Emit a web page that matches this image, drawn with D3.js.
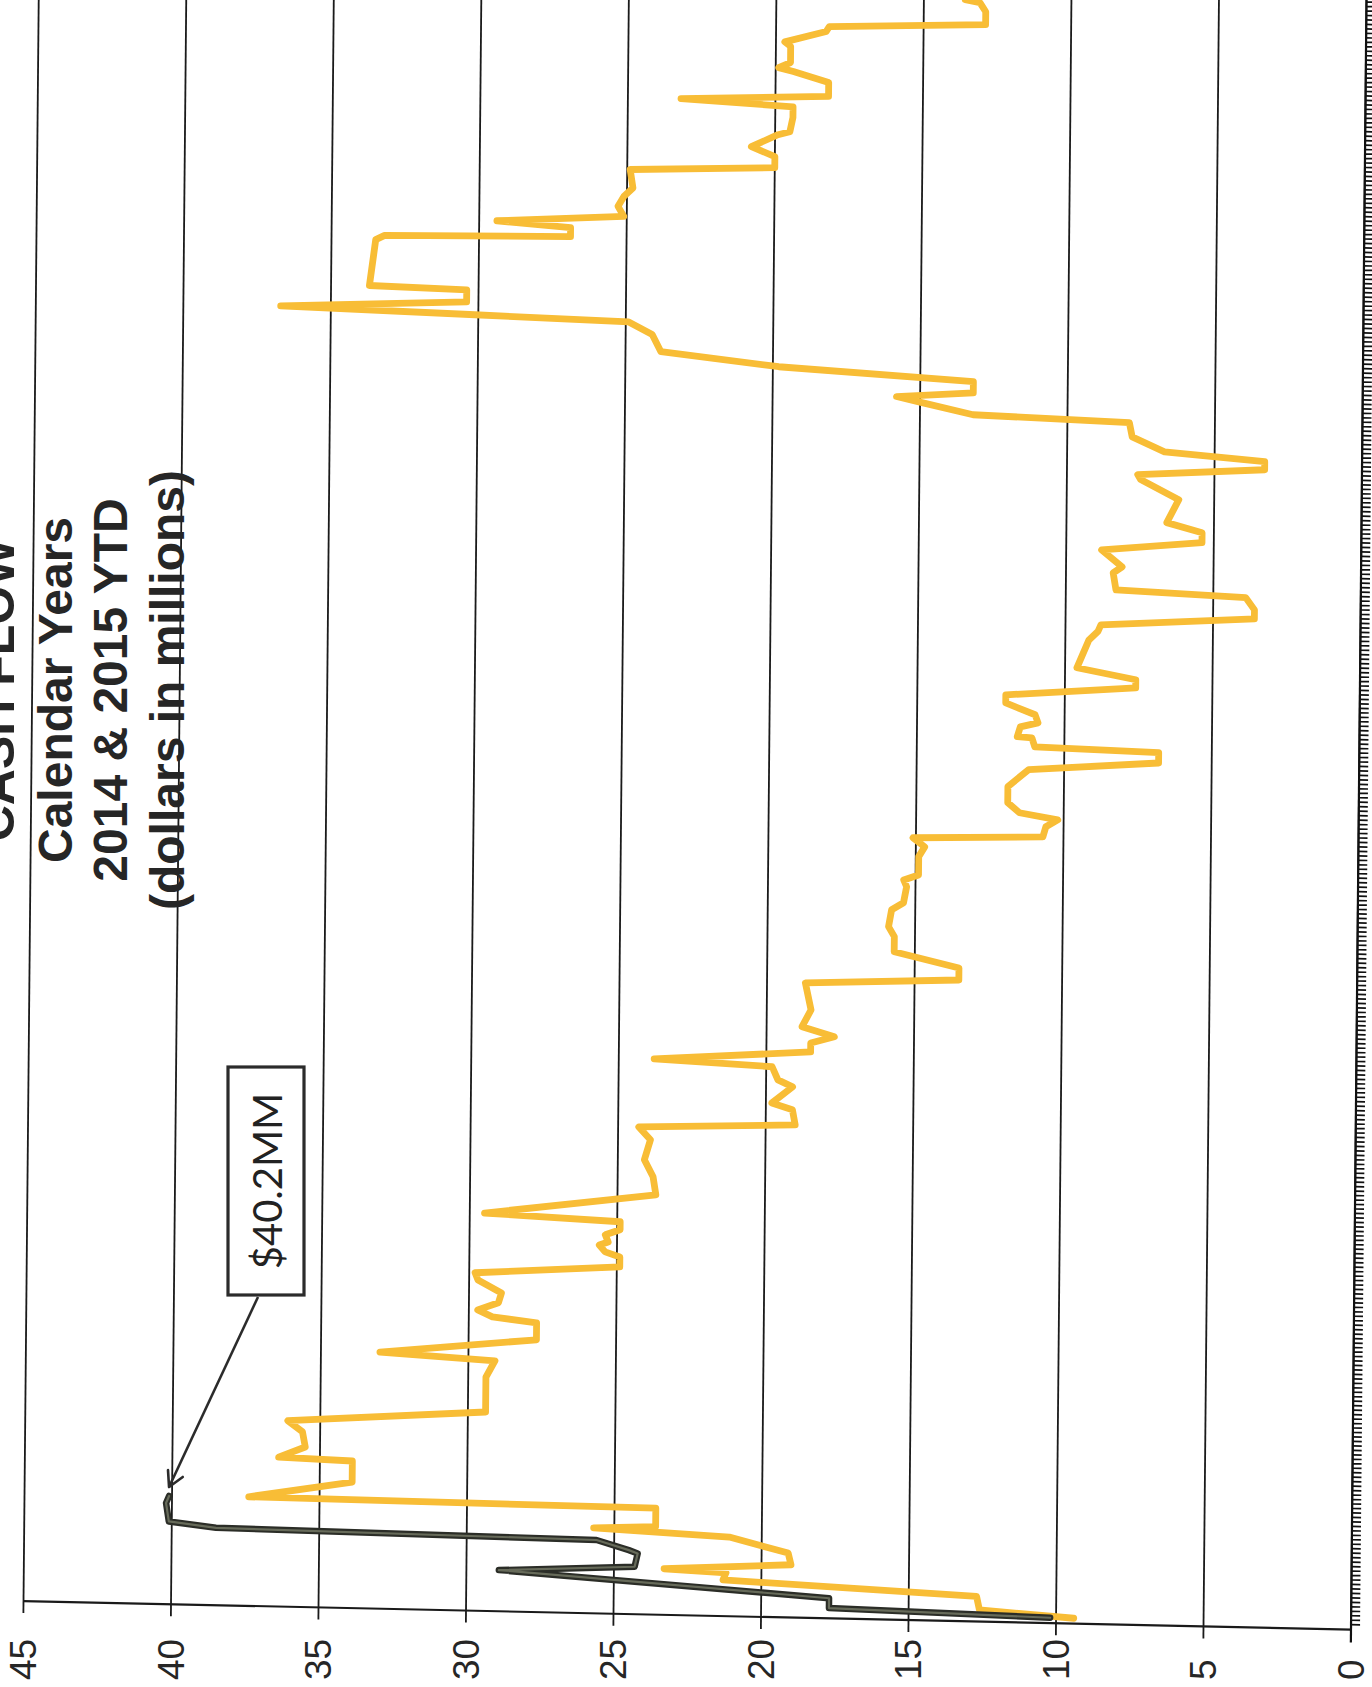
<!DOCTYPE html>
<html>
<head>
<meta charset="utf-8">
<script src="https://cdn.jsdelivr.net/npm/d3@7/dist/d3.min.js"></script>
<style>
  html, body { margin: 0; padding: 0; background: #ffffff; }
  svg { display: block; overflow: hidden; }
</style>
</head>
<body>
<svg id="chart" width="1372" height="1687"></svg>
<script>
// ---- data (dollars in millions, by day of year) ----
const titleLines = ["CASH FLOW", "Calendar Years", "2014 & 2015 YTD", "(dollars in millions)"];
const valueTicks = [0, 5, 10, 15, 20, 25, 30, 35, 40, 45];
const valueTickLabels = ["0", "5", "10", "15", "20", "25", "30", "35", "40", "45"];
const seriesNames = ["2014", "2015"];

const days2014 = [1.0, 2.4, 5.4, 7.9, 9.5, 10.1, 11.6, 14.2, 17.5, 18.9, 19.5, 23.6, 24.2, 28.0, 32.7,
  33.2, 35.6, 39.0, 41.4, 44.3, 52.1, 55.8, 57.2, 60.7, 64.5, 65.6, 67.1, 68.8, 71.0, 73.8, 75.4,
  77.4, 79.6, 80.7, 82.2, 82.9, 84.5, 85.7, 87.5, 88.8, 93.7, 97.7, 101.5, 106.0, 108.8, 110.0,
  113.4, 114.8, 118.5, 120.0, 122.9, 124.1, 126.4, 128.4, 129.9, 132.0, 135.8, 141.8, 143.2, 145.9,
  149.2, 152.6, 154.8, 158.6, 160.2, 163.8, 165.3, 166.5, 170.6, 172.8, 174.8, 175.6, 177.9, 179.5,
  180.9, 183.1, 186.7, 190.6, 192.7, 195.0, 195.7, 197.7, 197.9, 200.1, 201.1, 202.9, 205.4, 207.2,
  209.4, 211.2, 213.6, 219.9, 221.8, 223.3, 225.4, 227.4, 230.1, 231.2, 235.0, 236.4, 240.1, 242.2,
  244.4, 246.5, 251.7, 256.0, 257.1, 258.8, 260.6, 262.3, 265.5, 268.7, 269.7, 272.1, 273.4, 274.6,
  277.1, 279.5, 282.3, 286.1, 288.8, 289.7, 290.7, 292.5, 295.2, 295.7, 306.0, 307.0, 307.6, 309.6,
  310.8, 312.4, 314.6,
  316.9, 318.8, 322.9, 324.0, 326.5, 328.6, 331.4, 332.1, 335.3, 337.7, 339.0, 340.2, 343.3, 345.6,
  346.4, 347.6, 351.2, 352.2, 354.7, 355.8, 357.0, 359.9, 361.9, 362.5];
const cash2014 = [9.4, 12.6, 12.7, 21.3, 21.2, 23.3, 19.0, 19.1, 21.1, 25.7, 23.6, 23.6, 37.4, 33.9, 33.9,
  36.4, 35.5, 35.6, 36.1, 29.4, 29.4, 29.1, 33.0, 27.7, 27.7, 29.2, 29.7, 29.0, 28.9, 29.7, 29.8,
  24.9, 24.9, 25.4, 25.6, 25.3, 25.4, 24.9, 24.9, 29.5, 23.7, 23.8, 24.1, 23.9, 24.3, 19.0,
  19.1, 19.8, 19.1, 19.6, 19.8, 23.8, 18.5, 18.5, 17.7, 18.8, 18.5, 18.7, 13.5, 13.5,
  15.7, 15.7, 15.9, 15.8, 15.4, 15.3, 15.4, 14.9, 14.9, 14.7, 15.1, 10.7, 10.6, 10.2,
  11.5, 11.9, 11.9, 11.2, 6.8, 6.8, 11.0, 11.1, 11.6, 11.5, 10.9, 11.0, 12.0, 12.0,
  7.6, 7.6, 9.6, 9.2, 8.9, 8.8, 3.6, 3.6, 3.9, 8.3, 8.4, 8.1, 8.8, 5.4,
  5.4, 6.6, 6.2, 7.5, 7.6, 3.3, 3.3, 6.7, 7.8, 7.9, 13.2, 14.9, 15.8, 13.2,
  13.2, 19.8, 23.8, 24.1, 24.9, 30.3, 36.7, 30.4, 30.4, 33.7, 33.5, 33.2, 26.9, 26.9,
  29.4, 25.1, 25.3,
  25.1, 24.8, 24.9, 20.0, 20.0, 20.8, 19.9, 19.5, 19.4, 19.4, 23.2, 18.2, 18.2, 19.4,
  19.9, 19.5, 19.5, 19.7, 18.3, 18.2, 12.9, 12.9, 13.1, 13.6];

const days2015 = [1.0, 2.1, 4.3, 9.0, 10.4, 13.4, 14.1, 16.2, 17.1, 18.3, 22.4, 24.0];
const cash2015 = [10.2, 17.7, 17.7, 28.9, 24.3, 24.2, 24.5, 25.6, 38.5, 40.1, 40.2, 40.1];

const peakLabel = "$40.2MM";

// ---- layout ----
const W = 1372, H = 1687;
const svg = d3.select("#chart");

// The page is laid out sideways: the value axis runs right-to-left along the
// bottom and the calendar runs bottom-to-top. A slight shear follows the sheet.
const SKEW_X = -0.0095, SKEW_Y = 0.0215;
const X0 = 1351, Y0 = 1629.6;           // value 0 at the first day's edge
function toPage(px, py) {
  return [px + SKEW_X * (py - Y0), py + SKEW_Y * (px - X0)];
}

const x = d3.scaleLinear().domain([0, 45]).range([X0, 23.5]);
const PX_PER_DAY = 4.47;
const y = d3.scaleLinear().domain([1, 365]).range([1624.2, 1624.2 - PX_PER_DAY * 364]);
const dayTop = 366;

const plot = svg.append("g")
  .attr("transform", `matrix(1,${SKEW_Y},${SKEW_X},1,${-SKEW_X * Y0},${-SKEW_Y * X0})`);

// value gridlines (they also serve as ticks below the value axis)
plot.append("g").selectAll("line").data(valueTicks).join("line")
  .attr("x1", d => x(d)).attr("x2", d => x(d))
  .attr("y1", y(dayTop)).attr("y2", Y0 + 12)
  .attr("stroke", "#1a1a1a").attr("stroke-width", 1.8);

// value axis line at the start of the year
plot.append("line")
  .attr("x1", x(45)).attr("x2", x(0)).attr("y1", Y0).attr("y2", Y0)
  .attr("stroke", "#1a1a1a").attr("stroke-width", 2.2);

// day axis with one tick per day
const dayAxis = d3.axisRight(y)
  .tickValues(d3.range(1, dayTop + 1))
  .tickSize(9).tickSizeOuter(0).tickFormat("");
const dayAxisG = plot.append("g")
  .attr("transform", `translate(${x(0)},0)`)
  .call(dayAxis);
dayAxisG.select(".domain").remove();
dayAxisG.selectAll(".tick line").attr("stroke", "#111").attr("stroke-width", 1.7);
dayAxisG.append("line")
  .attr("x1", 0).attr("x2", 0).attr("y1", y(dayTop)).attr("y2", Y0 + 13)
  .attr("stroke", "#111").attr("stroke-width", 2.2);

// series
const line = d3.line().x(d => x(d[1])).y(d => y(d[0])).curve(d3.curveLinear);
const s2014 = days2014.map((d, i) => [d, cash2014[i]]);
const s2015 = days2015.map((d, i) => [d, cash2015[i]]);

plot.append("path").datum(s2014)
  .attr("d", line).attr("fill", "none")
  .attr("stroke", "#f8bd36").attr("stroke-width", 6.8)
  .attr("stroke-linejoin", "round").attr("stroke-linecap", "round");

plot.append("path").datum(s2015)
  .attr("d", line).attr("fill", "none")
  .attr("stroke", "#2b2d27").attr("stroke-width", 6.5)
  .attr("stroke-linejoin", "round").attr("stroke-linecap", "round");
plot.append("path").datum(s2015)
  .attr("d", line).attr("fill", "none")
  .attr("stroke", "#676b5a").attr("stroke-width", 2.2)
  .attr("stroke-linejoin", "round").attr("stroke-linecap", "round");

// value tick labels, written sideways below the axis
svg.append("g").selectAll("text").data(valueTicks).join("text")
  .attr("transform", (d, i) => {
    const p = toPage(x(d), 1655);
    return `translate(${p[0] + 13},1680) rotate(-90)`;
  })
  .attr("text-anchor", "start")
  .attr("font-family", "'Liberation Sans', Arial, sans-serif")
  .attr("font-size", 37).attr("fill", "#262626")
  .text((d, i) => valueTickLabels[i]);

// title block
const titleSpec = [
  { text: titleLines[0], bx: 14, size: 50 },
  { text: titleLines[1], bx: 72, size: 48 },
  { text: titleLines[2], bx: 127, size: 48 },
  { text: titleLines[3], bx: 184, size: 48 }
];
svg.append("g").selectAll("text").data(titleSpec).join("text")
  .attr("transform", d => `translate(${d.bx},690) rotate(-90)`)
  .attr("text-anchor", "middle")
  .attr("font-family", "'Liberation Sans', Arial, sans-serif")
  .attr("font-weight", "bold")
  .attr("font-size", d => d.size).attr("fill", "#262626")
  .text(d => d.text);

// callout for the 2015 peak
const peakIdx = d3.maxIndex(cash2015);
const peakPt = toPage(x(cash2015[peakIdx]), y(days2015[peakIdx]));
const tip = [peakPt[0] + 3, peakPt[1] - 16];
const boxX = 228, boxY = 1067, boxW = 76, boxH = 228;
const tail = [boxX + 30, boxY + boxH + 2];

const note = svg.append("g");
note.append("line")
  .attr("x1", tail[0]).attr("y1", tail[1]).attr("x2", tip[0]).attr("y2", tip[1])
  .attr("stroke", "#2b2b2b").attr("stroke-width", 2.6);
const ang = Math.atan2(tail[1] - tip[1], tail[0] - tip[0]);
const arm = 17, spread = 0.5;
note.append("path")
  .attr("d", `M${tip[0] + arm * Math.cos(ang - spread)},${tip[1] + arm * Math.sin(ang - spread)}
              L${tip[0]},${tip[1]}
              L${tip[0] + arm * Math.cos(ang + spread)},${tip[1] + arm * Math.sin(ang + spread)}`)
  .attr("fill", "none").attr("stroke", "#2b2b2b").attr("stroke-width", 2.6)
  .attr("stroke-linecap", "round").attr("stroke-linejoin", "round");
note.append("rect")
  .attr("x", boxX).attr("y", boxY).attr("width", boxW).attr("height", boxH)
  .attr("fill", "#ffffff").attr("stroke", "#2b2b2b").attr("stroke-width", 3.2);
note.append("text")
  .attr("transform", `translate(${boxX + 54},${boxY + boxH / 2}) rotate(-90)`)
  .attr("text-anchor", "middle")
  .attr("font-family", "Lato, 'Liberation Sans', sans-serif")
  .attr("font-size", 40).attr("fill", "#222")
  .text(peakLabel);
</script>
</body>
</html>
